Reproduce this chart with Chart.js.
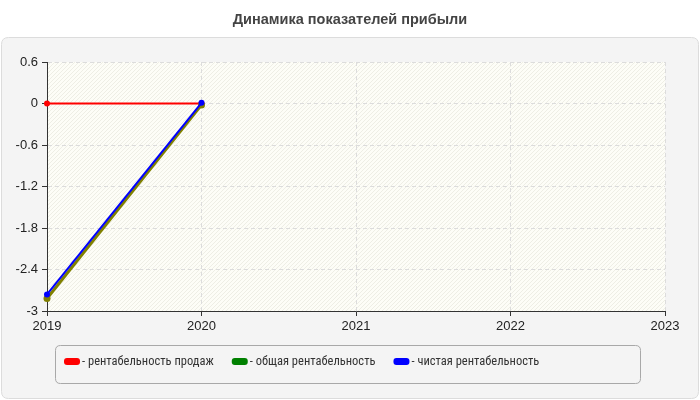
<!DOCTYPE html>
<html>
<head>
<meta charset="utf-8">
<script src="https://cdn.jsdelivr.net/npm/chart.js@4/dist/chart.umd.min.js"></script>
<style>
  html, body { margin: 0; padding: 0; background: #fff; }
  #wrap { width: 700px; height: 400px; }
</style>
</head>
<body>
<div id="wrap"><canvas id="chart" width="700" height="400"></canvas></div>
<script>
// Profitability dynamics: three series over years.

const chartTitle   = "Динамика показателей прибыли";
const years        = [2019, 2020];
const salesProfit  = [0, 0];
const totalProfit  = [-2.82, -0.02];
const netProfit    = [-2.76, 0.01];

const seriesNames   = ["- рентабельность продаж", "- общая рентабельность", "- чистая рентабельность"];
const lineColours   = ["#ff0000", "#808000", "#0000ff"];
const legendColours = ["#ff0000", "#008000", "#0000ff"];

const yTicks = [-3, -2.4, -1.8, -1.2, -0.6, 0, 0.6];
const xTicks = [2019, 2020, 2021, 2022, 2023];

const AXIS_FONT   = { family: "'Liberation Sans', Arial, sans-serif", size: 13 };
const LEGEND_FONT = "12.5px 'Liberation Sans Narrow', 'Roboto Condensed', Roboto, sans-serif";
const TITLE_FONT  = "bold 14.5px 'Liberation Sans', Arial, sans-serif";

function toPoints(values) {
  return years.map((y, i) => ({ x: y, y: values[i] }));
}

function roundRect(ctx, x, y, w, h, r) {
  ctx.beginPath();
  ctx.moveTo(x + r, y);
  ctx.lineTo(x + w - r, y);
  ctx.quadraticCurveTo(x + w, y, x + w, y + r);
  ctx.lineTo(x + w, y + h - r);
  ctx.quadraticCurveTo(x + w, y + h, x + w - r, y + h);
  ctx.lineTo(x + r, y + h);
  ctx.quadraticCurveTo(x, y + h, x, y + h - r);
  ctx.lineTo(x, y + r);
  ctx.quadraticCurveTo(x, y, x + r, y);
  ctx.closePath();
}

// Gray panel, hatched plot area, title and the framed legend
const backdrop = {
  id: "backdrop",
  beforeDraw(chart) {
    const ctx = chart.ctx;
    const a   = chart.chartArea;
    ctx.save();
    ctx.font = TITLE_FONT;
    ctx.fillStyle = "#444";
    ctx.textAlign = "center";
    ctx.textBaseline = "middle";
    ctx.fillText(chartTitle, 350, 19.5);

    roundRect(ctx, 1.5, 37.5, 697, 361, 7);
    ctx.fillStyle = "#f4f4f4";
    ctx.fill();
    ctx.strokeStyle = "#dcdcdc";
    ctx.lineWidth = 1;
    ctx.stroke();

    ctx.fillStyle = "#fdfdf7";
    ctx.fillRect(a.left, a.top, a.right - a.left, a.bottom - a.top);
    ctx.beginPath();
    ctx.rect(a.left, a.top, a.right - a.left, a.bottom - a.top);
    ctx.clip();
    ctx.strokeStyle = "rgba(225,225,215,0.55)";
    ctx.lineWidth = 1;
    ctx.beginPath();
    const h = a.bottom - a.top;
    for (let x = a.left - h; x < a.right; x += 4) {
      ctx.moveTo(x, a.bottom);
      ctx.lineTo(x + h, a.top);
    }
    ctx.stroke();
    ctx.restore();
  },
  afterDraw(chart) {
    const ctx = chart.ctx;
    ctx.save();
    roundRect(ctx, 55.5, 345.5, 585, 38, 5);
    ctx.strokeStyle = "#a8a8a8";
    ctx.lineWidth = 1;
    ctx.stroke();

    ctx.font = LEGEND_FONT;
    ctx.textBaseline = "middle";
    let x = 64;
    const cy = 361.5;
    seriesNames.forEach((name, i) => {
      roundRect(ctx, x, cy - 3.5, 16, 7, 3);
      ctx.fillStyle = legendColours[i];
      ctx.fill();
      ctx.fillStyle = "#333";
      ctx.fillText(name, x + 18, cy);
      x += 18 + ctx.measureText(name).width + 18;
    });
    ctx.restore();
  },
};

const datasets = [salesProfit, totalProfit, netProfit].map((vals, i) => ({
  label: seriesNames[i],
  data: toPoints(vals),
  borderColor: lineColours[i],
  backgroundColor: lineColours[i],
  pointBackgroundColor: lineColours[i],
  pointBorderColor: lineColours[i],
  borderWidth: i === 1 ? 3 : 2,
  pointRadius: i === 1 ? 3.5 : 3,
  pointBorderWidth: 0,
  pointHoverRadius: 4,
  tension: 0,
  fill: false,
  clip: false,
  order: 3 - i,
}));

new Chart(document.getElementById("chart"), {
  type: "line",
  data: { datasets },
  plugins: [backdrop],
  options: {
    responsive: false,
    animation: false,
    layout: { padding: { left: 0, right: 35, top: 62, bottom: 59 } },
    plugins: {
      title: { display: false },
      legend: { display: false },
      tooltip: { enabled: false },
    },
    scales: {
      x: {
        type: "linear",
        min: xTicks[0],
        max: xTicks[xTicks.length - 1],
        afterBuildTicks(axis) { axis.ticks = xTicks.map((v) => ({ value: v })); },
        afterFit(axis) { axis.height = 30; },
        ticks: {
          color: "#222",
          font: AXIS_FONT,
          padding: 3,
          maxRotation: 0,
          callback: (v) => String(v),
        },
        grid: { color: "#dcdcdc", tickColor: "#333", tickLength: 5 },
        border: { color: "#333", width: 1, dash: [4, 3] },
      },
      y: {
        min: yTicks[0],
        max: yTicks[yTicks.length - 1],
        afterBuildTicks(axis) { axis.ticks = yTicks.map((v) => ({ value: v })); },
        afterFit(axis) { axis.width = 47; },
        ticks: {
          color: "#222",
          font: AXIS_FONT,
          padding: 4,
          callback: (v) => String(Math.round(v * 10) / 10),
        },
        grid: { color: "#dcdcdc", tickColor: "#333", tickLength: 5 },
        border: { color: "#333", width: 1, dash: [4, 3] },
      },
    },
  },
});
</script>
</body>
</html>
